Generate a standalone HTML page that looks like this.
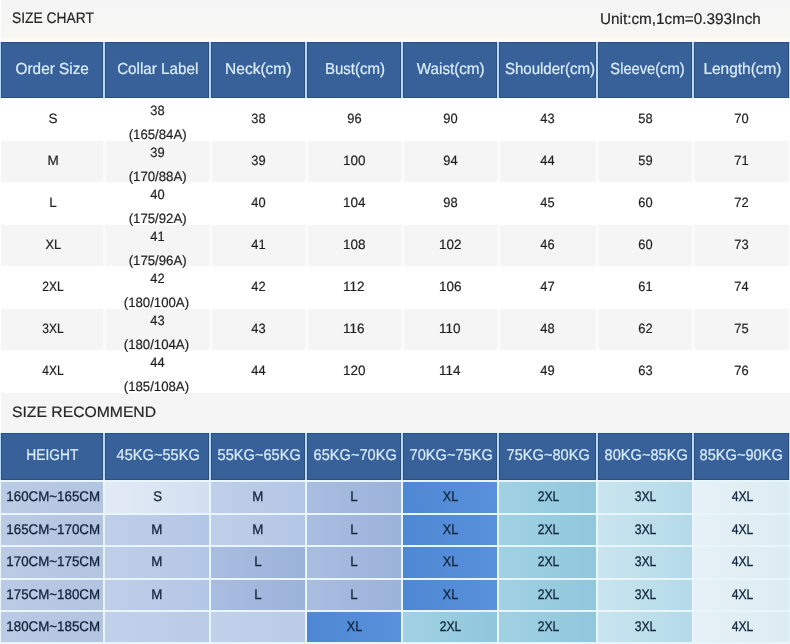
<!DOCTYPE html>
<html lang="en">
<head>
<meta charset="utf-8">
<title>Size Chart</title>
<style>
html,body{margin:0;padding:0;}
body{width:790px;height:644px;overflow:hidden;background:#fff;font-family:"Liberation Sans",sans-serif;position:relative;text-rendering:geometricPrecision;}
.band{position:absolute;left:1px;width:789px;background:#f5f5f5;}
.t{position:absolute;white-space:nowrap;color:#262626;-webkit-text-stroke:0.2px #262626;font-size:15.5px;line-height:20px;}
.hd{position:absolute;background:#38619a;box-shadow:inset 1px 1px 0 #2c4f82,inset -1px -1px 0 #2c4f82;color:#dbeefc;-webkit-text-stroke:0.2px #dbeefc;font-size:16px;text-align:center;white-space:nowrap;}
.hbg{position:absolute;left:0;width:790px;background:#b8d9f9;}
.c{position:absolute;text-align:center;font-size:13.5px;color:#1f1f1f;-webkit-text-stroke:0.2px #1f1f1f;white-space:nowrap;}
.c p{position:absolute;left:0;right:0;margin:0;line-height:18px;}
.g{position:absolute;background:#f5f5f5;}
.gl{position:absolute;width:3px;background:#fbfbfb;}
.c2{position:absolute;text-align:center;font-size:14px;color:#0f2439;-webkit-text-stroke:0.3px #0f2439;white-space:nowrap;}
span{display:inline-block;position:relative;transform-origin:50% 50%;}
.t span{transform-origin:0 50%;}
.bg2{position:absolute;left:0;width:790px;background:#e8f6fc;}
</style>
</head>
<body>
<div class="band" style="top:0;height:41px;background:linear-gradient(180deg,#f5f5f5 0,#f6f6f5 30px,#f9f9f1 37px,#fbfbf6 40px,#fdfdfc 41px);"></div>
<div class="band" style="top:393px;height:39px;"></div>
<div class="t" style="left:11.7px;top:9px;font-size:15.25px;"><span style="transform:scaleX(0.9052)">SIZE CHART</span></div>
<div class="t" style="left:600.1px;top:9.5px;"><span style="transform:scaleX(0.9853)">Unit:cm,1cm=0.393Inch</span></div>
<div class="hbg" style="top:42px;height:56px;"></div>
<div class="hd" style="left:1px;top:42px;width:102px;height:56px;line-height:55px;"><span style="transform:scaleX(0.9587);left:0.55px">Order Size</span></div>
<div class="hd" style="left:105px;top:42px;width:104px;height:56px;line-height:55px;"><span style="transform:scaleX(0.9502);left:0.42px">Collar Label</span></div>
<div class="hd" style="left:211px;top:42px;width:94px;height:56px;line-height:55px;"><span style="transform:scaleX(0.9676);left:-0.18px">Neck(cm)</span></div>
<div class="hd" style="left:307px;top:42px;width:94px;height:56px;line-height:55px;"><span style="transform:scaleX(0.9393);left:0.68px">Bust(cm)</span></div>
<div class="hd" style="left:403px;top:42px;width:94px;height:56px;line-height:55px;"><span style="transform:scaleX(0.9494);left:0.84px">Waist(cm)</span></div>
<div class="hd" style="left:499px;top:42px;width:97px;height:56px;line-height:55px;"><span style="transform:scaleX(0.9381);left:2.43px">Shoulder(cm)</span></div>
<div class="hd" style="left:598px;top:42px;width:94px;height:56px;line-height:55px;"><span style="transform:scaleX(0.9176);left:2.66px">Sleeve(cm)</span></div>
<div class="hd" style="left:694px;top:42px;width:95px;height:56px;line-height:55px;"><span style="transform:scaleX(0.9643);left:0.93px">Length(cm)</span></div>
<div class="g" style="left:1px;top:141px;width:788px;height:41px;"></div>
<div class="gl" style="left:103px;top:141px;height:41px;"></div>
<div class="gl" style="left:209px;top:141px;height:41px;"></div>
<div class="gl" style="left:305px;top:141px;height:41px;"></div>
<div class="gl" style="left:401px;top:141px;height:41px;"></div>
<div class="gl" style="left:497px;top:141px;height:41px;"></div>
<div class="gl" style="left:596px;top:141px;height:41px;"></div>
<div class="gl" style="left:692px;top:141px;height:41px;"></div>
<div class="g" style="left:1px;top:225px;width:788px;height:41px;"></div>
<div class="gl" style="left:103px;top:225px;height:41px;"></div>
<div class="gl" style="left:209px;top:225px;height:41px;"></div>
<div class="gl" style="left:305px;top:225px;height:41px;"></div>
<div class="gl" style="left:401px;top:225px;height:41px;"></div>
<div class="gl" style="left:497px;top:225px;height:41px;"></div>
<div class="gl" style="left:596px;top:225px;height:41px;"></div>
<div class="gl" style="left:692px;top:225px;height:41px;"></div>
<div class="g" style="left:1px;top:309px;width:788px;height:41px;"></div>
<div class="gl" style="left:103px;top:309px;height:41px;"></div>
<div class="gl" style="left:209px;top:309px;height:41px;"></div>
<div class="gl" style="left:305px;top:309px;height:41px;"></div>
<div class="gl" style="left:401px;top:309px;height:41px;"></div>
<div class="gl" style="left:497px;top:309px;height:41px;"></div>
<div class="gl" style="left:596px;top:309px;height:41px;"></div>
<div class="gl" style="left:692px;top:309px;height:41px;"></div>
<div class="c" style="left:1px;top:98px;width:102px;height:42px;line-height:41px;"><span style="left:1px">S</span></div>
<div class="c" style="left:105px;top:98px;width:104px;height:42px;"><p style="top:3.5px;"><span style="transform:scaleX(0.9530);left:0.02px">38</span></p><p style="top:27.5px;"><span style="transform:scaleX(0.9784);left:0.32px">(165/84A)</span></p></div>
<div class="c" style="left:211px;top:98px;width:94px;height:42px;line-height:41px;"><span style="transform:scaleX(0.9530);left:0.02px">38</span></div>
<div class="c" style="left:307px;top:98px;width:94px;height:42px;line-height:41px;"><span style="transform:scaleX(0.9530);left:0.02px">96</span></div>
<div class="c" style="left:403px;top:98px;width:94px;height:42px;line-height:41px;"><span style="transform:scaleX(0.9530);left:0.02px">90</span></div>
<div class="c" style="left:499px;top:98px;width:97px;height:42px;line-height:41px;"><span style="transform:scaleX(0.9530);left:0.02px">43</span></div>
<div class="c" style="left:598px;top:98px;width:94px;height:42px;line-height:41px;"><span style="transform:scaleX(0.9530);left:0.02px">58</span></div>
<div class="c" style="left:694px;top:98px;width:95px;height:42px;line-height:41px;"><span style="transform:scaleX(0.9530);left:0.02px">70</span></div>
<div class="c" style="left:1px;top:140px;width:102px;height:42px;line-height:41px;"><span style="left:1px">M</span></div>
<div class="c" style="left:105px;top:140px;width:104px;height:42px;"><p style="top:3.5px;"><span style="transform:scaleX(0.9530);left:0.02px">39</span></p><p style="top:27.5px;"><span style="transform:scaleX(0.9784);left:0.32px">(170/88A)</span></p></div>
<div class="c" style="left:211px;top:140px;width:94px;height:42px;line-height:41px;"><span style="transform:scaleX(0.9530);left:0.02px">39</span></div>
<div class="c" style="left:307px;top:140px;width:94px;height:42px;line-height:41px;"><span style="transform:scaleX(1.0011);left:0.2px">100</span></div>
<div class="c" style="left:403px;top:140px;width:94px;height:42px;line-height:41px;"><span style="transform:scaleX(0.9530);left:0.02px">94</span></div>
<div class="c" style="left:499px;top:140px;width:97px;height:42px;line-height:41px;"><span style="transform:scaleX(0.9530);left:0.02px">44</span></div>
<div class="c" style="left:598px;top:140px;width:94px;height:42px;line-height:41px;"><span style="transform:scaleX(0.9530);left:0.02px">59</span></div>
<div class="c" style="left:694px;top:140px;width:95px;height:42px;line-height:41px;"><span style="transform:scaleX(0.9530);left:0.02px">71</span></div>
<div class="c" style="left:1px;top:182px;width:102px;height:42px;line-height:41px;"><span style="left:1px">L</span></div>
<div class="c" style="left:105px;top:182px;width:104px;height:42px;"><p style="top:3.5px;"><span style="transform:scaleX(0.9530);left:0.02px">40</span></p><p style="top:27.5px;"><span style="transform:scaleX(0.9784);left:0.32px">(175/92A)</span></p></div>
<div class="c" style="left:211px;top:182px;width:94px;height:42px;line-height:41px;"><span style="transform:scaleX(0.9530);left:0.02px">40</span></div>
<div class="c" style="left:307px;top:182px;width:94px;height:42px;line-height:41px;"><span style="transform:scaleX(1.0011);left:0.2px">104</span></div>
<div class="c" style="left:403px;top:182px;width:94px;height:42px;line-height:41px;"><span style="transform:scaleX(0.9530);left:0.02px">98</span></div>
<div class="c" style="left:499px;top:182px;width:97px;height:42px;line-height:41px;"><span style="transform:scaleX(0.9530);left:0.02px">45</span></div>
<div class="c" style="left:598px;top:182px;width:94px;height:42px;line-height:41px;"><span style="transform:scaleX(0.9530);left:0.02px">60</span></div>
<div class="c" style="left:694px;top:182px;width:95px;height:42px;line-height:41px;"><span style="transform:scaleX(0.9530);left:0.02px">72</span></div>
<div class="c" style="left:1px;top:224px;width:102px;height:42px;line-height:41px;"><span style="transform:scaleX(0.9500);left:0.8px">XL</span></div>
<div class="c" style="left:105px;top:224px;width:104px;height:42px;"><p style="top:3.5px;"><span style="transform:scaleX(0.9530);left:0.02px">41</span></p><p style="top:27.5px;"><span style="transform:scaleX(0.9784);left:0.32px">(175/96A)</span></p></div>
<div class="c" style="left:211px;top:224px;width:94px;height:42px;line-height:41px;"><span style="transform:scaleX(0.9530);left:0.02px">41</span></div>
<div class="c" style="left:307px;top:224px;width:94px;height:42px;line-height:41px;"><span style="transform:scaleX(1.0011);left:0.2px">108</span></div>
<div class="c" style="left:403px;top:224px;width:94px;height:42px;line-height:41px;"><span style="transform:scaleX(1.0011);left:0.2px">102</span></div>
<div class="c" style="left:499px;top:224px;width:97px;height:42px;line-height:41px;"><span style="transform:scaleX(0.9530);left:0.02px">46</span></div>
<div class="c" style="left:598px;top:224px;width:94px;height:42px;line-height:41px;"><span style="transform:scaleX(0.9530);left:0.02px">60</span></div>
<div class="c" style="left:694px;top:224px;width:95px;height:42px;line-height:41px;"><span style="transform:scaleX(0.9530);left:0.02px">73</span></div>
<div class="c" style="left:1px;top:266px;width:102px;height:42px;line-height:41px;"><span style="transform:scaleX(0.8900);left:1.3px">2XL</span></div>
<div class="c" style="left:105px;top:266px;width:104px;height:42px;"><p style="top:3.5px;"><span style="transform:scaleX(0.9530);left:0.02px">42</span></p><p style="top:27.5px;"><span style="transform:scaleX(0.9772);left:-0.22px">(180/100A)</span></p></div>
<div class="c" style="left:211px;top:266px;width:94px;height:42px;line-height:41px;"><span style="transform:scaleX(0.9530);left:0.02px">42</span></div>
<div class="c" style="left:307px;top:266px;width:94px;height:42px;line-height:41px;"><span style="transform:scaleX(1.0011);left:0.2px">112</span></div>
<div class="c" style="left:403px;top:266px;width:94px;height:42px;line-height:41px;"><span style="transform:scaleX(1.0011);left:0.2px">106</span></div>
<div class="c" style="left:499px;top:266px;width:97px;height:42px;line-height:41px;"><span style="transform:scaleX(0.9530);left:0.02px">47</span></div>
<div class="c" style="left:598px;top:266px;width:94px;height:42px;line-height:41px;"><span style="transform:scaleX(0.9530);left:0.02px">61</span></div>
<div class="c" style="left:694px;top:266px;width:95px;height:42px;line-height:41px;"><span style="transform:scaleX(0.9530);left:0.02px">74</span></div>
<div class="c" style="left:1px;top:308px;width:102px;height:42px;line-height:41px;"><span style="transform:scaleX(0.8900);left:1.3px">3XL</span></div>
<div class="c" style="left:105px;top:308px;width:104px;height:42px;"><p style="top:3.5px;"><span style="transform:scaleX(0.9530);left:0.02px">43</span></p><p style="top:27.5px;"><span style="transform:scaleX(0.9772);left:-0.22px">(180/104A)</span></p></div>
<div class="c" style="left:211px;top:308px;width:94px;height:42px;line-height:41px;"><span style="transform:scaleX(0.9530);left:0.02px">43</span></div>
<div class="c" style="left:307px;top:308px;width:94px;height:42px;line-height:41px;"><span style="transform:scaleX(1.0011);left:0.2px">116</span></div>
<div class="c" style="left:403px;top:308px;width:94px;height:42px;line-height:41px;"><span style="transform:scaleX(1.0011);left:0.2px">110</span></div>
<div class="c" style="left:499px;top:308px;width:97px;height:42px;line-height:41px;"><span style="transform:scaleX(0.9530);left:0.02px">48</span></div>
<div class="c" style="left:598px;top:308px;width:94px;height:42px;line-height:41px;"><span style="transform:scaleX(0.9530);left:0.02px">62</span></div>
<div class="c" style="left:694px;top:308px;width:95px;height:42px;line-height:41px;"><span style="transform:scaleX(0.9530);left:0.02px">75</span></div>
<div class="c" style="left:1px;top:350px;width:102px;height:42px;line-height:41px;"><span style="transform:scaleX(0.8900);left:1.3px">4XL</span></div>
<div class="c" style="left:105px;top:350px;width:104px;height:42px;"><p style="top:3.5px;"><span style="transform:scaleX(0.9530);left:0.02px">44</span></p><p style="top:27.5px;"><span style="transform:scaleX(0.9772);left:-0.22px">(185/108A)</span></p></div>
<div class="c" style="left:211px;top:350px;width:94px;height:42px;line-height:41px;"><span style="transform:scaleX(0.9530);left:0.02px">44</span></div>
<div class="c" style="left:307px;top:350px;width:94px;height:42px;line-height:41px;"><span style="transform:scaleX(1.0011);left:0.2px">120</span></div>
<div class="c" style="left:403px;top:350px;width:94px;height:42px;line-height:41px;"><span style="transform:scaleX(1.0011);left:0.2px">114</span></div>
<div class="c" style="left:499px;top:350px;width:97px;height:42px;line-height:41px;"><span style="transform:scaleX(0.9530);left:0.02px">49</span></div>
<div class="c" style="left:598px;top:350px;width:94px;height:42px;line-height:41px;"><span style="transform:scaleX(0.9530);left:0.02px">63</span></div>
<div class="c" style="left:694px;top:350px;width:95px;height:42px;line-height:41px;"><span style="transform:scaleX(0.9530);left:0.02px">76</span></div>
<div class="t" style="left:11.9px;top:402.5px;font-size:15px;"><span style="transform:scaleX(1.0477)">SIZE RECOMMEND</span></div>
<div class="bg2" style="top:432px;height:212px;"></div>
<div class="hbg" style="top:433px;height:47px;"></div>
<div class="hd" style="left:1px;top:433px;width:102px;height:47px;line-height:45px;font-size:15.5px;"><span style="transform:scaleX(0.8884);left:0.64px">HEIGHT</span></div>
<div class="hd" style="left:105px;top:433px;width:104px;height:47px;line-height:45px;font-size:15.5px;"><span style="transform:scaleX(0.9411);left:1.49px">45KG~55KG</span></div>
<div class="hd" style="left:211px;top:433px;width:94px;height:47px;line-height:45px;font-size:15.5px;"><span style="transform:scaleX(0.9411);left:1.49px">55KG~65KG</span></div>
<div class="hd" style="left:307px;top:433px;width:94px;height:47px;line-height:45px;font-size:15.5px;"><span style="transform:scaleX(0.9411);left:1.49px">65KG~70KG</span></div>
<div class="hd" style="left:403px;top:433px;width:94px;height:47px;line-height:45px;font-size:15.5px;"><span style="transform:scaleX(0.9411);left:0.99px">70KG~75KG</span></div>
<div class="hd" style="left:499px;top:433px;width:97px;height:47px;line-height:45px;font-size:15.5px;"><span style="transform:scaleX(0.9411);left:0.79px">75KG~80KG</span></div>
<div class="hd" style="left:598px;top:433px;width:94px;height:47px;line-height:45px;font-size:15.5px;"><span style="transform:scaleX(0.9411);left:0.69px">80KG~85KG</span></div>
<div class="hd" style="left:694px;top:433px;width:95px;height:47px;line-height:45px;font-size:15.5px;"><span style="transform:scaleX(0.9411);left:-0.01px">85KG~90KG</span></div>
<div class="c2" style="left:1px;top:482px;width:102px;height:31px;line-height:29px;background:linear-gradient(90deg,#bccbe4,#b2c4e0);"><span style="transform:scaleX(0.9522);left:1.21px">160CM~165CM</span></div>
<div class="c2" style="left:105px;top:482px;width:104px;height:31px;line-height:29px;background:linear-gradient(90deg,#e2eaf5,#d3dff0);"><span style="transform:scaleX(0.9500);left:0.3px">S</span></div>
<div class="c2" style="left:211px;top:482px;width:94px;height:31px;line-height:29px;background:linear-gradient(90deg,#bfcfe9,#b3c6e5);"><span style="transform:scaleX(0.9500);left:0.3px">M</span></div>
<div class="c2" style="left:307px;top:482px;width:94px;height:31px;line-height:29px;background:linear-gradient(90deg,#a9bde0,#9bb2da);"><span style="transform:scaleX(0.9500);left:0.3px">L</span></div>
<div class="c2" style="left:403px;top:482px;width:94px;height:31px;line-height:29px;background:linear-gradient(90deg,#4e87d3,#5991db);"><span style="transform:scaleX(0.9000);left:0.5px">XL</span></div>
<div class="c2" style="left:499px;top:482px;width:97px;height:31px;line-height:29px;background:linear-gradient(90deg,#a1d1e3,#90c7dc);"><span style="transform:scaleX(0.8695);left:0.5px">2XL</span></div>
<div class="c2" style="left:598px;top:482px;width:94px;height:31px;line-height:29px;background:linear-gradient(90deg,#c9e5ef,#b3dae8);"><span style="transform:scaleX(0.8695);left:0.5px">3XL</span></div>
<div class="c2" style="left:694px;top:482px;width:95px;height:31px;line-height:29px;background:linear-gradient(90deg,#e6f1f7,#dcecf3);"><span style="transform:scaleX(0.8695);left:0.5px">4XL</span></div>
<div class="c2" style="left:1px;top:515px;width:102px;height:30px;line-height:28px;background:linear-gradient(90deg,#bccbe4,#b2c4e0);"><span style="transform:scaleX(0.9522);left:1.21px">165CM~170CM</span></div>
<div class="c2" style="left:105px;top:515px;width:104px;height:30px;line-height:28px;background:linear-gradient(90deg,#bfcfe9,#b3c6e5);"><span style="transform:scaleX(0.9500);left:0.3px">M</span></div>
<div class="c2" style="left:211px;top:515px;width:94px;height:30px;line-height:28px;background:linear-gradient(90deg,#bfcfe9,#b3c6e5);"><span style="transform:scaleX(0.9500);left:0.3px">M</span></div>
<div class="c2" style="left:307px;top:515px;width:94px;height:30px;line-height:28px;background:linear-gradient(90deg,#a9bde0,#9bb2da);"><span style="transform:scaleX(0.9500);left:0.3px">L</span></div>
<div class="c2" style="left:403px;top:515px;width:94px;height:30px;line-height:28px;background:linear-gradient(90deg,#4e87d3,#5991db);"><span style="transform:scaleX(0.9000);left:0.5px">XL</span></div>
<div class="c2" style="left:499px;top:515px;width:97px;height:30px;line-height:28px;background:linear-gradient(90deg,#a1d1e3,#90c7dc);"><span style="transform:scaleX(0.8695);left:0.5px">2XL</span></div>
<div class="c2" style="left:598px;top:515px;width:94px;height:30px;line-height:28px;background:linear-gradient(90deg,#c9e5ef,#b3dae8);"><span style="transform:scaleX(0.8695);left:0.5px">3XL</span></div>
<div class="c2" style="left:694px;top:515px;width:95px;height:30px;line-height:28px;background:linear-gradient(90deg,#e6f1f7,#dcecf3);"><span style="transform:scaleX(0.8695);left:0.5px">4XL</span></div>
<div class="c2" style="left:1px;top:547px;width:102px;height:31px;line-height:29px;background:linear-gradient(90deg,#bccbe4,#b2c4e0);"><span style="transform:scaleX(0.9522);left:1.21px">170CM~175CM</span></div>
<div class="c2" style="left:105px;top:547px;width:104px;height:31px;line-height:29px;background:linear-gradient(90deg,#bfcfe9,#b3c6e5);"><span style="transform:scaleX(0.9500);left:0.3px">M</span></div>
<div class="c2" style="left:211px;top:547px;width:94px;height:31px;line-height:29px;background:linear-gradient(90deg,#a9bde0,#9bb2da);"><span style="transform:scaleX(0.9500);left:0.3px">L</span></div>
<div class="c2" style="left:307px;top:547px;width:94px;height:31px;line-height:29px;background:linear-gradient(90deg,#a9bde0,#9bb2da);"><span style="transform:scaleX(0.9500);left:0.3px">L</span></div>
<div class="c2" style="left:403px;top:547px;width:94px;height:31px;line-height:29px;background:linear-gradient(90deg,#4e87d3,#5991db);"><span style="transform:scaleX(0.9000);left:0.5px">XL</span></div>
<div class="c2" style="left:499px;top:547px;width:97px;height:31px;line-height:29px;background:linear-gradient(90deg,#a1d1e3,#90c7dc);"><span style="transform:scaleX(0.8695);left:0.5px">2XL</span></div>
<div class="c2" style="left:598px;top:547px;width:94px;height:31px;line-height:29px;background:linear-gradient(90deg,#c9e5ef,#b3dae8);"><span style="transform:scaleX(0.8695);left:0.5px">3XL</span></div>
<div class="c2" style="left:694px;top:547px;width:95px;height:31px;line-height:29px;background:linear-gradient(90deg,#e6f1f7,#dcecf3);"><span style="transform:scaleX(0.8695);left:0.5px">4XL</span></div>
<div class="c2" style="left:1px;top:580px;width:102px;height:30px;line-height:28px;background:linear-gradient(90deg,#bccbe4,#b2c4e0);"><span style="transform:scaleX(0.9522);left:1.21px">175CM~180CM</span></div>
<div class="c2" style="left:105px;top:580px;width:104px;height:30px;line-height:28px;background:linear-gradient(90deg,#bfcfe9,#b3c6e5);"><span style="transform:scaleX(0.9500);left:0.3px">M</span></div>
<div class="c2" style="left:211px;top:580px;width:94px;height:30px;line-height:28px;background:linear-gradient(90deg,#a9bde0,#9bb2da);"><span style="transform:scaleX(0.9500);left:0.3px">L</span></div>
<div class="c2" style="left:307px;top:580px;width:94px;height:30px;line-height:28px;background:linear-gradient(90deg,#a9bde0,#9bb2da);"><span style="transform:scaleX(0.9500);left:0.3px">L</span></div>
<div class="c2" style="left:403px;top:580px;width:94px;height:30px;line-height:28px;background:linear-gradient(90deg,#4e87d3,#5991db);"><span style="transform:scaleX(0.9000);left:0.5px">XL</span></div>
<div class="c2" style="left:499px;top:580px;width:97px;height:30px;line-height:28px;background:linear-gradient(90deg,#a1d1e3,#90c7dc);"><span style="transform:scaleX(0.8695);left:0.5px">2XL</span></div>
<div class="c2" style="left:598px;top:580px;width:94px;height:30px;line-height:28px;background:linear-gradient(90deg,#c9e5ef,#b3dae8);"><span style="transform:scaleX(0.8695);left:0.5px">3XL</span></div>
<div class="c2" style="left:694px;top:580px;width:95px;height:30px;line-height:28px;background:linear-gradient(90deg,#e6f1f7,#dcecf3);"><span style="transform:scaleX(0.8695);left:0.5px">4XL</span></div>
<div class="c2" style="left:1px;top:612px;width:102px;height:30px;line-height:28px;background:linear-gradient(90deg,#bccbe4,#b2c4e0);"><span style="transform:scaleX(0.9522);left:1.21px">180CM~185CM</span></div>
<div class="c2" style="left:105px;top:612px;width:104px;height:30px;line-height:28px;background:linear-gradient(90deg,#c2d1ea,#bacbe7);"></div>
<div class="c2" style="left:211px;top:612px;width:94px;height:30px;line-height:28px;background:linear-gradient(90deg,#c2d1ea,#bacbe7);"></div>
<div class="c2" style="left:307px;top:612px;width:94px;height:30px;line-height:28px;background:linear-gradient(90deg,#4e87d3,#5991db);"><span style="transform:scaleX(0.9000);left:0.5px">XL</span></div>
<div class="c2" style="left:403px;top:612px;width:94px;height:30px;line-height:28px;background:linear-gradient(90deg,#a1d1e3,#90c7dc);"><span style="transform:scaleX(0.8695);left:0.5px">2XL</span></div>
<div class="c2" style="left:499px;top:612px;width:97px;height:30px;line-height:28px;background:linear-gradient(90deg,#a1d1e3,#90c7dc);"><span style="transform:scaleX(0.8695);left:0.5px">2XL</span></div>
<div class="c2" style="left:598px;top:612px;width:94px;height:30px;line-height:28px;background:linear-gradient(90deg,#c9e5ef,#b3dae8);"><span style="transform:scaleX(0.8695);left:0.5px">3XL</span></div>
<div class="c2" style="left:694px;top:612px;width:95px;height:30px;line-height:28px;background:linear-gradient(90deg,#e6f1f7,#dcecf3);"><span style="transform:scaleX(0.8695);left:0.5px">4XL</span></div>
</body>
</html>
